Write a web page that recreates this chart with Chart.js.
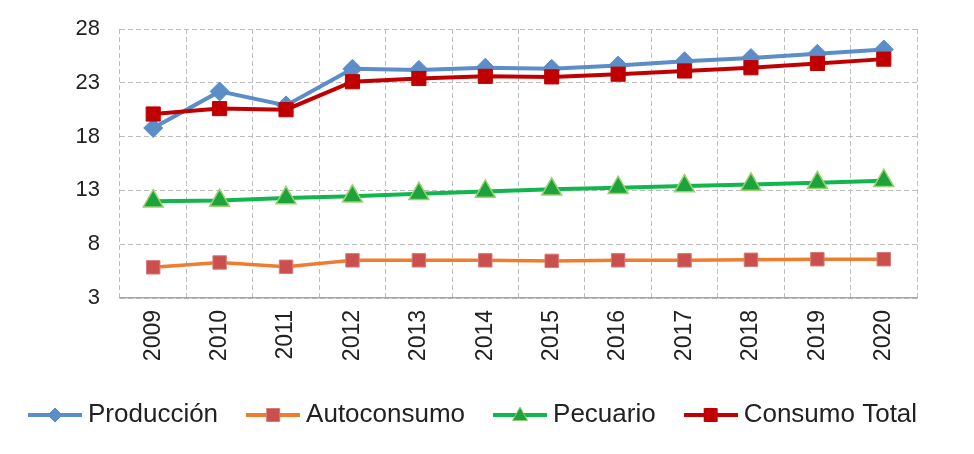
<!DOCTYPE html>
<html>
<head>
<meta charset="utf-8">
<script src="https://cdn.jsdelivr.net/npm/chart.js@4.4.1/dist/chart.umd.min.js"></script>
<style>
  html, body { margin: 0; padding: 0; background: #ffffff; }
  #wrap { width: 974px; height: 454px; position: relative; }
</style>
</head>
<body>
<div id="wrap"><canvas id="c"></canvas></div>
<script>
const years = ['2009','2010','2011','2012','2013','2014','2015','2016','2017','2018','2019','2020'];
const produccion   = [18.8, 22.2, 20.9, 24.3, 24.2, 24.4, 24.3, 24.6, 25.0, 25.3, 25.7, 26.1];
const autoconsumo  = [5.85, 6.3, 5.9, 6.5, 6.5, 6.5, 6.45, 6.5, 6.5, 6.55, 6.6, 6.6];
const pecuario     = [12.0, 12.05, 12.3, 12.45, 12.7, 12.9, 13.1, 13.25, 13.4, 13.55, 13.7, 13.9];
const consumoTotal = [20.1, 20.6, 20.5, 23.1, 23.4, 23.6, 23.55, 23.8, 24.1, 24.4, 24.8, 25.2];
const yTicks = [3, 8, 13, 18, 23, 28];

const FONT = "'Liberation Sans', Arial, sans-serif";
const GRID = '#bdbdbd';

function legendGlyph(lineColor, lineW, shape, fill, stroke) {
  const cv = document.createElement('canvas');
  cv.width = 54; cv.height = 24;
  const g = cv.getContext('2d');
  g.strokeStyle = lineColor; g.lineWidth = lineW;
  g.beginPath(); g.moveTo(0, 12); g.lineTo(54, 12); g.stroke();
  g.fillStyle = fill; g.strokeStyle = stroke; g.lineWidth = 1;
  g.beginPath();
  if (shape === 'diamond') {
    g.moveTo(27, 5); g.lineTo(34, 12); g.lineTo(27, 19); g.lineTo(20, 12); g.closePath();
  } else if (shape === 'square') {
    g.rect(20.5, 5.5, 13, 13);
  } else {
    g.moveTo(27, 4); g.lineTo(34.5, 17.5); g.lineTo(19.5, 17.5); g.closePath();
  }
  g.fill(); g.stroke();
  return cv;
}

const glyphs = [
  legendGlyph('#5B8DC8', 4, 'diamond', '#5B8DC8', '#5B8DC8'),
  legendGlyph('#EE7D2E', 4, 'square', '#C9504D', '#D9797A'),
  legendGlyph('#12B64E', 4, 'triangle', '#1DA33C', '#8FCB6A'),
  legendGlyph('#C00000', 4, 'square', '#C00000', '#C00000')
];

const bgPlugin = {
  id: 'bg',
  beforeDraw(chart) {
    const ctx = chart.ctx;
    ctx.save(); ctx.fillStyle = '#ffffff';
    ctx.fillRect(0, 0, chart.width, chart.height); ctx.restore();
  }
};

new Chart(document.getElementById('c'), {
  type: 'line',
  data: {
    labels: years,
    datasets: [
      { label: 'Producción', data: produccion, borderColor: '#5B8DC8', borderWidth: 4,
        pointStyle: 'rectRot', pointRadius: 9.5, pointBackgroundColor: '#5B8DC8', pointBorderColor: '#5B8DC8',
        pointBorderWidth: 1, tension: 0, order: 1, yAxisID: 'y' },
      { label: 'Autoconsumo', data: autoconsumo, borderColor: '#EE7D2E', borderWidth: 3.5,
        pointStyle: 'rect', pointRadius: 9.5, pointBackgroundColor: '#C9504D', pointBorderColor: '#D9797A',
        pointBorderWidth: 1, tension: 0, order: 1, yAxisID: 'y' },
      { label: 'Pecuario', data: pecuario, borderColor: '#12B64E', borderWidth: 4,
        pointStyle: 'triangle', pointRadius: 11.5, pointBackgroundColor: '#1DA33C', pointBorderColor: '#9BD06E',
        pointBorderWidth: 1.5, tension: 0, order: 1, yAxisID: 'y' },
      { label: 'Consumo Total', data: consumoTotal, borderColor: '#C00000', borderWidth: 4,
        pointStyle: 'rect', pointRadius: 10, pointBackgroundColor: '#C00000', pointBorderColor: '#C00000',
        pointBorderWidth: 1, tension: 0, order: 0, yAxisID: 'y' }
    ]
  },
  options: {
    responsive: true,
    maintainAspectRatio: false,
    animation: false,
    events: [],
    layout: { padding: { top: 29, right: 0, bottom: 27, left: 0 } },
    plugins: {
      tooltip: { enabled: false },
      legend: {
        position: 'bottom',
        align: 'start',
        maxHeight: 60,
        labels: {
          usePointStyle: true,
          pointStyleWidth: 40,
          padding: 35,
          color: '#222222',
          font: { family: FONT, size: 26 },
          sort: (a, b) => a.datasetIndex - b.datasetIndex,
          generateLabels(chart) {
            const items = Chart.defaults.plugins.legend.labels.generateLabels(chart);
            items.forEach(it => { it.pointStyle = glyphs[it.datasetIndex]; });
            return items;
          }
        }
      }
    },
    scales: {
      x: {
        type: 'category',
        offset: true,
        afterFit(scale) { scale.height = 69; },
        grid: { display: true, offset: true, color: GRID, lineWidth: 1, drawTicks: false },
        border: { display: true, color: '#a6a6a6', width: 1.5, dash: [5, 3] },
        ticks: {
          minRotation: 90, maxRotation: 90, autoSkip: false, padding: 12,
          color: '#222222', font: { family: FONT, size: 23 }
        }
      },
      y: {
        type: 'linear',
        position: 'left',
        min: 3, max: 28,
        afterFit(scale) { scale.width = 120; scale.paddingTop = 12; scale.paddingBottom = 12; },
        afterBuildTicks(scale) { scale.ticks = yTicks.map(v => ({ value: v })); },
        grid: { display: true, color: GRID, lineWidth: 1, drawTicks: false },
        border: { display: false, dash: [5, 3] },
        ticks: {
          stepSize: 5, padding: 20,
          color: '#222222', font: { family: FONT, size: 22 }
        }
      },
      yR: {
        type: 'linear',
        position: 'right',
        min: 3, max: 28,
        afterFit(scale) { scale.width = 57; scale.paddingTop = 0; scale.paddingBottom = 0; },
        grid: { display: false, drawTicks: false },
        border: { display: false },
        ticks: { display: false }
      }
    }
  },
  plugins: [bgPlugin]
});
</script>
</body>
</html>
